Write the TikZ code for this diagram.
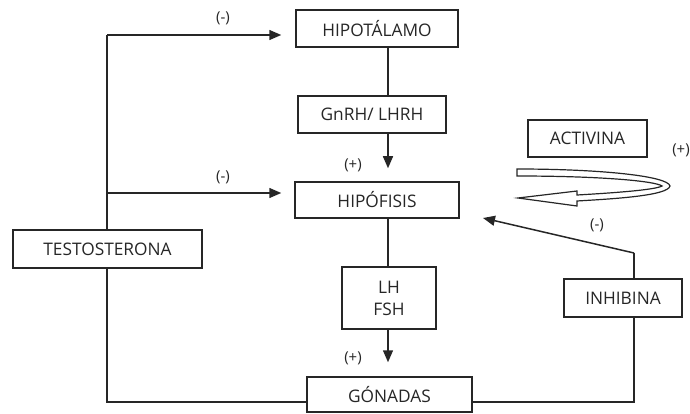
\documentclass[tikz,border=0pt]{standalone}
\usepackage{fontspec}
\setmainfont{Open Sans}
\usetikzlibrary{arrows.meta}
\definecolor{ink}{HTML}{262626}
\tikzset{
  x=1pt, y=-1pt,
  box/.style={draw=ink, line width=1.5pt, rectangle, inner sep=0pt, align=center,
    font=\fontsize{17.3}{22}\selectfont, text=ink},
  sign/.style={font=\fontsize{15}{17}\selectfont, text=ink, inner sep=0pt},
  wire/.style={draw=ink, line width=1.5pt},
  arr/.style={wire, -{Triangle[length=12pt,width=10pt]}},
}
\begin{document}
\begin{tikzpicture}
\useasboundingbox (0,0) rectangle (690,414);
\clip (0,0) rectangle (690,414);

% hormone boxes
\node[box, minimum width=162pt, minimum height=37pt] (hipot) at (377,28.5) {HIPOTÁLAMO};
\node[box, minimum width=148pt, minimum height=37pt] (gnrh)  at (372,114.5) {GnRH/ LHRH};
\node[box, minimum width=164pt, minimum height=36pt] (hipof) at (377,200) {HIPÓFISIS};
\node[box, minimum width=94pt,  minimum height=62pt] (lhfsh) at (389,298) {LH\\FSH};
\node[box, minimum width=165pt, minimum height=35pt] (gon)   at (389.5,394.5) {GÓNADAS};
\node[box, minimum width=189pt, minimum height=38pt] (testo) at (107.5,249) {TESTOSTERONA};
\node[box, minimum width=118pt, minimum height=38pt] (inhib) at (623,298) {INHIBINA};
\node[box, minimum width=119pt, minimum height=37pt] (activ) at (587.5,138.5) {ACTIVINA};

% routing points
\coordinate (vx) at (388,0);
\coordinate (ttop) at (107,35);
\coordinate (tmid) at (107,193);
\coordinate (tbot) at (107,402);
\coordinate (ibot) at (634,402);
\coordinate (itop) at (634,253);
\coordinate (itip) at (483,218);

% main axis
\draw[wire] (hipot.south -| vx) -- (gnrh.north -| vx);
\draw[arr, shorten >=13pt] (gnrh.south -| vx) -- (hipof.north -| vx);
\draw[wire] (hipof.south -| vx) -- (lhfsh.north -| vx);
\draw[arr, shorten >=14pt] (lhfsh.south -| vx) -- (gon.north -| vx);

% testosterone feedback
\draw[wire] (testo.north -| ttop) -- (ttop);
\draw[arr, shorten >=14pt] (ttop) -- (hipot.west |- ttop);
\draw[arr, shorten >=13pt] (tmid) -- (hipof.west |- tmid);
\draw[wire] (testo.south -| tbot) -- (tbot) -- (gon.west |- tbot);

% inhibin feedback
\draw[wire] (gon.east |- ibot) -- (ibot) -- (inhib.south -| ibot);
\draw[wire] (inhib.north -| itop) -- (itop);
\draw[arr] (itop) -- (itip);

% activin: hollow hairpin arrow
\draw[ink, line width=1.2pt, fill=white, line join=miter]
  (517,169) .. controls (600,169) and (668,176) .. (670,186)
  .. controls (668,196) and (610,199) .. (577,201)
  -- (577,206) -- (518,198) -- (577,191) -- (577,195)
  .. controls (612,193) and (655,190) .. (662,186)
  .. controls (655,181) and (600,176) .. (517,176) -- cycle;

% signs
\node[sign] (s1) at (223,18) {(-)};
\node[sign] (s2) at (223,177) {(-)};
\node[sign] (s3) at (353,165) {(+)};
\node[sign] (s4) at (353,358) {(+)};
\node[sign] (s5) at (597,225) {(-)};
\node[sign] (s6) at (681,150) {(+)};
\end{tikzpicture}
\end{document}
